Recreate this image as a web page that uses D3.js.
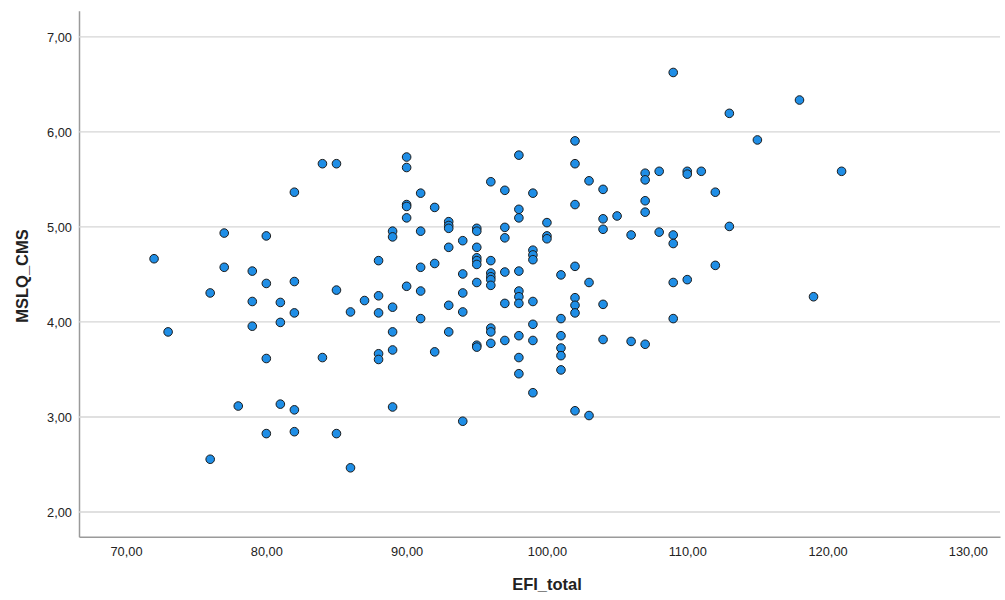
<!DOCTYPE html>
<html>
<head>
<meta charset="utf-8">
<script src="https://cdn.jsdelivr.net/npm/d3@7"></script>
<style>
  body { margin: 0; background: #fff; }
  svg { display: block; font-family: "Liberation Sans", Arial, sans-serif; }
</style>
</head>
<body>
<svg id="chart" width="1005" height="600"></svg>
<script>
// EFI_total values (x) and matching MSLQ_CMS values (y)
const efiTotal = [
  72, 73, 76, 76, 77, 77, 78, 79, 79, 79,
  80, 80, 80, 80, 81, 81, 81, 82, 82, 82, 82, 82,
  84, 84, 85, 85, 85, 86, 86, 87,
  88, 88, 88, 88, 88, 89, 89, 89, 89, 89, 89,
  90, 90, 90, 90, 90, 90, 91, 91, 91, 91, 91,
  92, 92, 92, 93, 93, 93, 93, 93, 93,
  94, 94, 94, 94, 94,
  95, 95, 95, 95, 95, 95, 95, 95, 95,
  96, 96, 96, 96, 96, 96, 96, 96, 96,
  97, 97, 97, 97, 97, 97,
  98, 98, 98, 98, 98, 98, 98, 98, 98, 98,
  99, 99, 99, 99, 99, 99, 99, 99,
  100, 100, 100,
  101, 101, 101, 101, 101, 101,
  102, 102, 102, 102, 102, 102, 102, 102,
  103, 103, 103, 104, 104, 104, 104, 104,
  105, 106, 106, 107, 107, 107, 107, 107,
  108, 108, 109, 109, 109, 109, 109,
  110, 110, 110, 111, 112, 112, 113, 113,
  115, 118, 119, 121
];
const mslqCms = [
  4.66, 3.89, 4.30, 2.55, 4.93, 4.57, 3.11, 4.53, 4.21, 3.95,
  4.90, 4.40, 3.61, 2.82, 4.20, 3.99, 3.13, 5.36, 4.42, 4.09, 3.07, 2.84,
  5.66, 3.62, 5.66, 4.33, 2.82, 4.10, 2.46, 4.22,
  4.64, 4.27, 4.09, 3.66, 3.60, 4.95, 4.89, 4.15, 3.89, 3.70, 3.10,
  5.73, 5.62, 5.23, 5.21, 5.09, 4.37, 5.35, 4.95, 4.57, 4.32, 4.03,
  5.20, 4.61, 3.68, 5.05, 5.01, 4.98, 4.78, 4.17, 3.89,
  4.85, 4.50, 4.30, 4.10, 2.95,
  4.98, 4.95, 4.78, 4.67, 4.64, 4.60, 4.41, 3.75, 3.73,
  5.47, 4.64, 4.51, 4.47, 4.44, 4.38, 3.93, 3.89, 3.77,
  5.38, 4.99, 4.88, 4.52, 4.19, 3.80,
  5.75, 5.18, 5.09, 4.53, 4.32, 4.26, 4.19, 3.85, 3.62, 3.45,
  5.35, 4.75, 4.70, 4.65, 4.21, 3.97, 3.80, 3.25,
  5.04, 4.90, 4.87,
  4.49, 4.03, 3.85, 3.72, 3.64, 3.49,
  5.90, 5.66, 5.23, 4.58, 4.25, 4.17, 4.09, 3.06,
  5.48, 4.41, 3.01, 5.39, 5.08, 4.97, 4.18, 3.81,
  5.11, 4.91, 3.79, 5.56, 5.49, 5.27, 5.15, 3.76,
  5.58, 4.94, 6.62, 4.91, 4.82, 4.41, 4.03,
  5.58, 5.55, 4.44, 5.58, 5.36, 4.59, 6.19, 5.00,
  5.91, 6.33, 4.26, 5.58
];

const xTicks = [70, 80, 90, 100, 110, 120, 130];
const yTicks = [2, 3, 4, 5, 6, 7];

const points = efiTotal.map((v, i) => ({ efi: v, mslq: mslqCms[i] }));

// plot frame
const plot = { left: 79, right: 1000, top: 10.7, bottom: 536.7 };

const svg = d3.select('#chart');

const x = d3.scaleLinear()
    .domain([66.65, 132.29])
    .range([plot.left, plot.right]);

const y = d3.scaleLinear()
    .domain([1.735, 7.27])
    .range([plot.bottom, plot.top]);

const fmt = d => d.toFixed(2).replace('.', ',');

// y axis with gridlines
const yAxis = svg.append('g')
    .attr('transform', `translate(${plot.left},0)`)
    .call(d3.axisLeft(y)
        .tickValues(yTicks)
        .tickSizeInner(-(plot.right - plot.left))
        .tickSizeOuter(0)
        .tickPadding(7)
        .tickFormat(fmt));

yAxis.selectAll('.tick line')
    .attr('stroke', '#d6d6d6')
    .attr('stroke-width', 1.3);
yAxis.selectAll('.tick text')
    .attr('fill', '#222')
    .style('font-size', '12.8px')
    .attr('dy', '0.42em');
yAxis.select('.domain')
    .attr('stroke', '#9a9a9a')
    .attr('stroke-width', 1.5);

// x axis
const xAxis = svg.append('g')
    .attr('transform', `translate(0,${plot.bottom})`)
    .call(d3.axisBottom(x)
        .tickValues(xTicks)
        .tickSize(0)
        .tickPadding(10.5)
        .tickFormat(fmt));

xAxis.selectAll('.tick text')
    .attr('fill', '#222')
    .style('font-size', '12.8px');
xAxis.select('.domain')
    .attr('stroke', '#9a9a9a')
    .attr('stroke-width', 1.5);

// points
svg.append('g')
    .selectAll('circle')
    .data(points)
    .join('circle')
    .attr('cx', d => x(d.efi))
    .attr('cy', d => y(d.mslq))
    .attr('r', 4.3)
    .attr('fill', '#1f8ee6')
    .attr('stroke', '#1b1b1b')
    .attr('stroke-width', 1);

// axis titles
svg.append('text')
    .attr('x', 547)
    .attr('y', 590)
    .attr('text-anchor', 'middle')
    .style('font-size', '16.5px')
    .style('font-weight', 'bold')
    .attr('fill', '#222')
    .text('EFI_total');

svg.append('text')
    .attr('transform', 'translate(28,276) rotate(-90)')
    .attr('text-anchor', 'middle')
    .style('font-size', '16.5px')
    .style('font-weight', 'bold')
    .attr('fill', '#222')
    .text('MSLQ_CMS');
</script>
</body>
</html>
